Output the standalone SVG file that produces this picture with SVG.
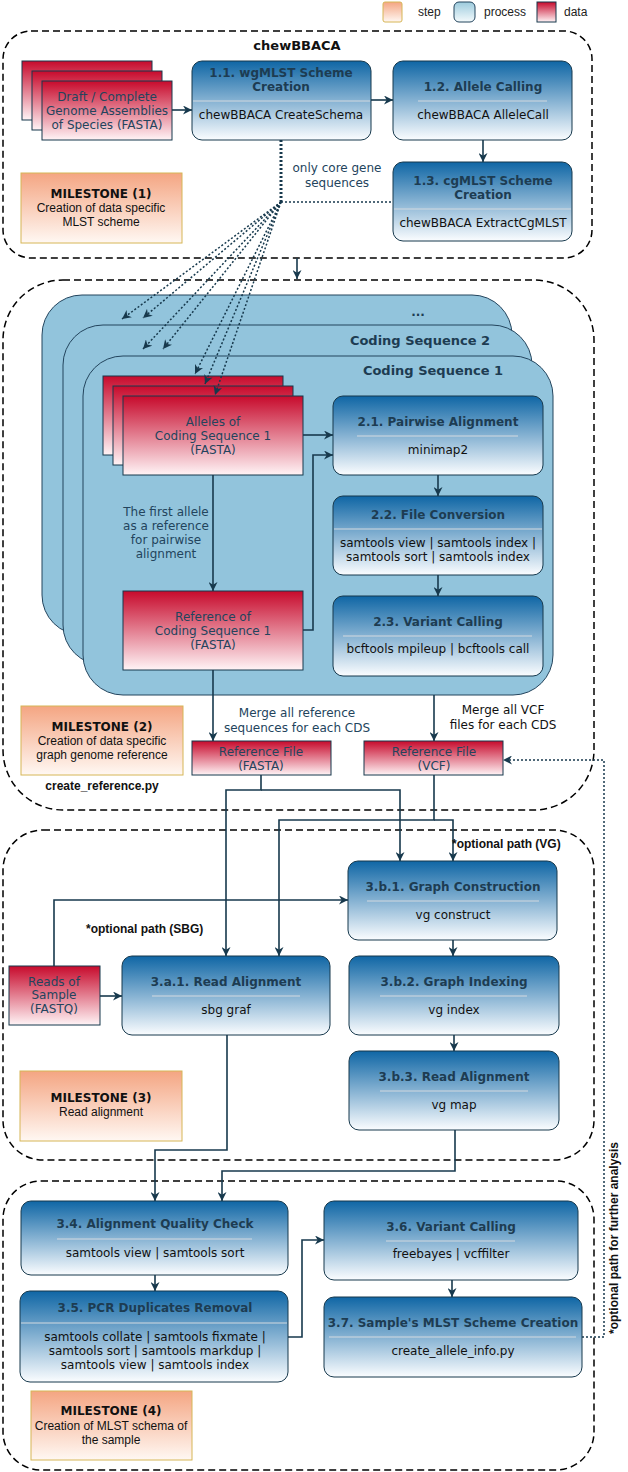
<svg xmlns="http://www.w3.org/2000/svg" width="628" height="1472" viewBox="0 0 628 1472">
<defs>
<linearGradient id="gP" x1="0" y1="0" x2="0" y2="1"><stop offset="0" stop-color="#0f66a5"/><stop offset="1" stop-color="#fbfdff"/></linearGradient>
<linearGradient id="gD" x1="0" y1="0" x2="0" y2="1"><stop offset="0" stop-color="#c70a2c"/><stop offset="1" stop-color="#fff4f6"/></linearGradient>
<linearGradient id="gS" x1="0" y1="0" x2="0" y2="1"><stop offset="0" stop-color="#f4a582"/><stop offset="1" stop-color="#fff8f3"/></linearGradient>
<linearGradient id="gL" x1="0" y1="0" x2="0" y2="1"><stop offset="0" stop-color="#9ccbdd"/><stop offset="1" stop-color="#f4fafc"/></linearGradient>
<marker id="ar" viewBox="0 0 10 10" refX="10" refY="5" markerWidth="9" markerHeight="9" markerUnits="userSpaceOnUse" orient="auto"><path d="M0,0 L10,5 L0,10 L3,5 z" fill="#17394d"/></marker>
<style>
.sec{fill:none;stroke:#000;stroke-width:1.5;stroke-dasharray:7 4}
.proc{fill:url(#gP);stroke:#17394d;stroke-width:1}
.data{fill:url(#gD);stroke:#17394d;stroke-width:1}
.step{fill:url(#gS);stroke:#d6b656;stroke-width:1}
.card{fill:#92c4dc;stroke:#23445d;stroke-width:1}
.div{stroke:#d3dadf;stroke-width:1.2}
.t{font-family:"DejaVu Sans",sans-serif;font-size:12px;text-anchor:middle;dominant-baseline:central}
.tb{font-weight:bold;fill:#1d3c52}
.sub{fill:#111}
.dt{fill:#23445d}
.lb{fill:#23445d}
.ms{font-family:"Liberation Sans",Arial,sans-serif;font-size:12px;text-anchor:middle;dominant-baseline:central;fill:#111}
.msb{font-family:"DejaVu Sans",sans-serif;font-size:12px;font-weight:bold;text-anchor:middle;dominant-baseline:central;fill:#111}
.lg{font-family:"Liberation Sans",Arial,sans-serif;font-size:12px;dominant-baseline:central;fill:#222}
.opt{font-family:"Liberation Sans",Arial,sans-serif;font-size:12px;font-weight:bold;dominant-baseline:central;fill:#111}
.ln{fill:none;stroke:#17394d;stroke-width:1.6}
.dot{fill:none;stroke:#17394d;stroke-width:1.5;stroke-dasharray:2 2}
</style>
</defs>

<!-- legend -->
<g id="legend">
<rect x="383" y="2" width="19" height="20" rx="2" class="step"/>
<text x="418" y="12" class="lg">step</text>
<rect x="454" y="2" width="21" height="20" rx="5" fill="url(#gL)" stroke="#23445d"/>
<text x="484" y="12" class="lg">process</text>
<rect x="537" y="2" width="19" height="20" class="data"/>
<text x="564" y="12" class="lg">data</text>
</g>

<!-- sections -->
<g id="sections">
<rect x="3" y="31" width="589" height="227" rx="28" class="sec"/>
<rect x="3" y="280" width="591" height="530" rx="60" class="sec"/>
<rect x="3" y="830" width="591" height="330" rx="40" class="sec"/>
<rect x="3" y="1181" width="591" height="289" rx="38" class="sec"/>
<text x="297" y="45" class="t" style="font-weight:bold;font-size:13px;fill:#111">chewBBACA</text>
</g>

<!-- coding sequence cards -->
<g id="cds3"><rect x="42" y="295" width="470" height="340" rx="40" class="card"/><text x="418" y="312" class="t tb">...</text></g>
<g id="cds2"><rect x="63" y="325" width="469" height="340" rx="40" class="card"/><text x="420" y="340" class="t tb" style="font-size:13px">Coding Sequence 2</text></g>
<g id="cds1"><rect x="83" y="356" width="470" height="339" rx="40" class="card"/><text x="433" y="370" class="t tb" style="font-size:13px">Coding Sequence 1</text></g>

<!-- data nodes -->
<g id="assemblies">
<rect x="22" y="61" width="130" height="59" class="data"/>
<rect x="32" y="71" width="130" height="59" class="data"/>
<rect x="42" y="81" width="130" height="59" class="data"/>
<text x="107" y="97" class="t dt">Draft / Complete</text>
<text x="107" y="111" class="t dt">Genome Assemblies</text>
<text x="107" y="125" class="t dt">of Species (FASTA)</text>
</g>
<g id="alleles">
<rect x="103" y="376" width="180" height="79" class="data"/>
<rect x="113" y="386" width="180" height="79" class="data"/>
<rect x="123" y="396" width="180" height="79" class="data"/>
<text x="213" y="422" class="t dt">Alleles of</text>
<text x="213" y="436" class="t dt">Coding Sequence 1</text>
<text x="213" y="450" class="t dt">(FASTA)</text>
</g>
<g id="reference">
<rect x="123" y="591" width="180" height="79" class="data"/>
<text x="213" y="617" class="t dt">Reference of</text>
<text x="213" y="631" class="t dt">Coding Sequence 1</text>
<text x="213" y="645" class="t dt">(FASTA)</text>
</g>
<g id="reffasta">
<rect x="192" y="741" width="139" height="34" class="data"/>
<text x="261" y="752" class="t dt">Reference File</text>
<text x="261" y="766" class="t dt">(FASTA)</text>
</g>
<g id="refvcf">
<rect x="364" y="741" width="139" height="34" class="data"/>
<text x="434" y="752" class="t dt">Reference File</text>
<text x="434" y="766" class="t dt">(VCF)</text>
</g>
<g id="reads">
<rect x="9" y="966" width="91" height="59" class="data"/>
<text x="54" y="982" class="t dt">Reads of</text>
<text x="54" y="995" class="t dt">Sample</text>
<text x="54" y="1009" class="t dt">(FASTQ)</text>
</g>

<!-- process nodes -->
<g id="p11"><rect x="192" y="61" width="179" height="79" rx="10" class="proc"/>
<text x="281" y="73" class="t tb">1.1. wgMLST Scheme</text><text x="281" y="87" class="t tb">Creation</text>
<line x1="193" y1="101" x2="370" y2="101" class="div"/><text x="281" y="115" class="t sub">chewBBACA CreateSchema</text></g>
<g id="p12"><rect x="393" y="61" width="179" height="79" rx="10" class="proc"/>
<text x="483" y="87" class="t tb">1.2. Allele Calling</text>
<line x1="418" y1="101" x2="547" y2="101" class="div"/><text x="483" y="115" class="t sub">chewBBACA AlleleCall</text></g>
<g id="p13"><rect x="393" y="162" width="179" height="79" rx="10" class="proc"/>
<text x="483" y="181" class="t tb">1.3. cgMLST Scheme</text><text x="483" y="195" class="t tb">Creation</text>
<line x1="394" y1="209" x2="571" y2="209" class="div"/><text x="483" y="223" class="t sub">chewBBACA ExtractCgMLST</text></g>
<g id="p21"><rect x="333" y="396" width="210" height="79" rx="10" class="proc"/>
<text x="438" y="422" class="t tb">2.1. Pairwise Alignment</text>
<line x1="357" y1="436" x2="518" y2="436" class="div"/><text x="438" y="450" class="t sub">minimap2</text></g>
<g id="p22"><rect x="333" y="496" width="210" height="79" rx="10" class="proc"/>
<text x="438" y="515" class="t tb">2.2. File Conversion</text>
<line x1="334" y1="529" x2="542" y2="529" class="div"/>
<text x="438" y="543" class="t sub">samtools view | samtools index |</text><text x="438" y="557" class="t sub">samtools sort | samtools index</text></g>
<g id="p23"><rect x="333" y="596" width="210" height="80" rx="10" class="proc"/>
<text x="438" y="622" class="t tb">2.3. Variant Calling</text>
<line x1="343" y1="636" x2="532" y2="636" class="div"/><text x="438" y="649" class="t sub">bcftools mpileup | bcftools call</text></g>
<g id="p3b1"><rect x="348" y="861" width="209" height="79" rx="10" class="proc"/>
<text x="453" y="887" class="t tb">3.b.1. Graph Construction</text>
<line x1="367" y1="901" x2="539" y2="901" class="div"/><text x="453" y="915" class="t sub">vg construct</text></g>
<g id="p3b2"><rect x="349" y="956" width="210" height="79" rx="10" class="proc"/>
<text x="454" y="982" class="t tb">3.b.2. Graph Indexing</text>
<line x1="380" y1="996" x2="527" y2="996" class="div"/><text x="454" y="1010" class="t sub">vg index</text></g>
<g id="p3b3"><rect x="349" y="1051" width="210" height="79" rx="10" class="proc"/>
<text x="454" y="1077" class="t tb">3.b.3. Read Alignment</text>
<line x1="380" y1="1091" x2="528" y2="1091" class="div"/><text x="454" y="1105" class="t sub">vg map</text></g>
<g id="p3a1"><rect x="122" y="956" width="208" height="79" rx="10" class="proc"/>
<text x="226" y="982" class="t tb">3.a.1. Read Alignment</text>
<line x1="152" y1="996" x2="300" y2="996" class="div"/><text x="226" y="1010" class="t sub">sbg graf</text></g>
<g id="p34"><rect x="21" y="1201" width="267" height="74" rx="10" class="proc"/>
<text x="155" y="1224" class="t tb">3.4. Alignment Quality Check</text>
<line x1="57" y1="1239" x2="252" y2="1239" class="div"/><text x="155" y="1253" class="t sub">samtools view | samtools sort</text></g>
<g id="p35"><rect x="20" y="1291" width="268" height="91" rx="10" class="proc"/>
<text x="155" y="1308" class="t tb">3.5. PCR Duplicates Removal</text>
<line x1="21" y1="1323" x2="287" y2="1323" class="div"/>
<text x="155" y="1337" class="t sub">samtools collate | samtools fixmate |</text>
<text x="155" y="1351" class="t sub">samtools sort | samtools markdup |</text>
<text x="155" y="1365" class="t sub">samtools view | samtools index</text></g>
<g id="p36"><rect x="324" y="1201" width="254" height="79" rx="10" class="proc"/>
<text x="451" y="1227" class="t tb">3.6. Variant Calling</text>
<line x1="386" y1="1241" x2="515" y2="1241" class="div"/><text x="451" y="1254" class="t sub">freebayes | vcffilter</text></g>
<g id="p37"><rect x="324" y="1297" width="258" height="80" rx="10" class="proc"/>
<text x="453" y="1323" class="t tb">3.7. Sample's MLST Scheme Creation</text>
<line x1="329" y1="1337" x2="576" y2="1337" class="div"/><text x="453" y="1351" class="t sub">create_allele_info.py</text></g>

<!-- milestones -->
<g id="m1"><rect x="21" y="173" width="161" height="70" class="step"/>
<text x="101" y="194" class="msb">MILESTONE (1)</text><text x="101" y="208" class="ms">Creation of data specific</text><text x="101" y="222" class="ms">MLST scheme</text></g>
<g id="m2"><rect x="21" y="706" width="162" height="69" class="step"/>
<text x="102" y="727" class="msb">MILESTONE (2)</text><text x="102" y="741" class="ms">Creation of data specific</text><text x="102" y="755" class="ms">graph genome reference</text>
<text x="102" y="786" class="ms" style="font-weight:bold">create_reference.py</text></g>
<g id="m3"><rect x="20" y="1071" width="162" height="70" class="step"/>
<text x="101" y="1098" class="msb">MILESTONE (3)</text><text x="101" y="1112" class="ms">Read alignment</text></g>
<g id="m4"><rect x="31" y="1391" width="161" height="69" class="step"/>
<text x="111" y="1411" class="msb">MILESTONE (4)</text><text x="111" y="1426" class="ms">Creation of MLST schema of</text><text x="111" y="1440" class="ms">the sample</text></g>

<!-- connectors -->
<g id="connectors">
<path d="M172,110 H192" class="ln" marker-end="url(#ar)"/>
<path d="M371,100 H393" class="ln" marker-end="url(#ar)"/>
<path d="M483,140 V162" class="ln" marker-end="url(#ar)"/>
<path d="M297,258 V279" class="ln" marker-end="url(#ar)"/>
<path d="M303,435 H333" class="ln" marker-end="url(#ar)"/>
<path d="M303,630 H313 V455 H333" class="ln" marker-end="url(#ar)"/>
<path d="M213,475 V591" class="ln" marker-end="url(#ar)"/>
<path d="M438,475 V496" class="ln" marker-end="url(#ar)"/>
<path d="M438,575 V596" class="ln" marker-end="url(#ar)"/>
<path d="M213,670 V741" class="ln" marker-end="url(#ar)"/>
<path d="M434,695 V741" class="ln" marker-end="url(#ar)"/>
<path d="M261,775 V790 H226 V956" class="ln" marker-end="url(#ar)"/>
<path d="M261,790 H400 V861" class="ln" marker-end="url(#ar)"/>
<path d="M434,775 V820 H279 V956" class="ln" marker-end="url(#ar)"/>
<path d="M434,820 H453 V861" class="ln" marker-end="url(#ar)"/>
<path d="M54,966 V900 H348" class="ln" marker-end="url(#ar)"/>
<path d="M100,996 H122" class="ln" marker-end="url(#ar)"/>
<path d="M453,940 V956" class="ln" marker-end="url(#ar)"/>
<path d="M454,1035 V1051" class="ln" marker-end="url(#ar)"/>
<path d="M227,1035 V1150 H155 V1201" class="ln" marker-end="url(#ar)"/>
<path d="M455,1130 V1171 H222 V1201" class="ln" marker-end="url(#ar)"/>
<path d="M155,1275 V1291" class="ln" marker-end="url(#ar)"/>
<path d="M288,1337 H302 V1240 H324" class="ln" marker-end="url(#ar)"/>
<path d="M452,1280 V1297" class="ln" marker-end="url(#ar)"/>
<path d="M281,140 V202" class="dot" style="stroke-width:3"/>
<path d="M281,202 H393" class="dot"/>
<path d="M281,202 L122,319" class="dot" marker-end="url(#ar)"/>
<path d="M281,202 L143,318" class="dot" marker-end="url(#ar)"/>
<path d="M281,202 L143,349" class="dot" marker-end="url(#ar)"/>
<path d="M281,202 L163,349" class="dot" marker-end="url(#ar)"/>
<path d="M281,202 L195,374" class="dot" marker-end="url(#ar)"/>
<path d="M281,202 L205,384" class="dot" marker-end="url(#ar)"/>
<path d="M281,202 L215,395" class="dot" marker-end="url(#ar)"/>
<path d="M582,1337 H604 V760 H503" class="dot" marker-end="url(#ar)"/>
<text x="337" y="168" class="t lb">only core gene</text>
<text x="337" y="183" class="t lb">sequences</text>
<text x="166" y="512" class="t lb">The first allele</text>
<text x="166" y="526" class="t lb">as a reference</text>
<text x="166" y="540" class="t lb">for pairwise</text>
<text x="166" y="554" class="t lb">alignment</text>
<text x="297" y="713" class="t lb">Merge all reference</text>
<text x="297" y="728" class="t lb">sequences for each CDS</text>
<text x="503" y="710" class="t sub">Merge all VCF</text>
<text x="503" y="725" class="t sub">files for each CDS</text>
<text x="452" y="844" class="opt">*optional path (VG)</text>
<text x="86" y="929" class="opt">*optional path (SBG)</text>
<text x="0" y="0" class="opt" text-anchor="middle" transform="translate(614,1238) rotate(-90)">*optional path for further analysis</text>
</g>
</svg>
